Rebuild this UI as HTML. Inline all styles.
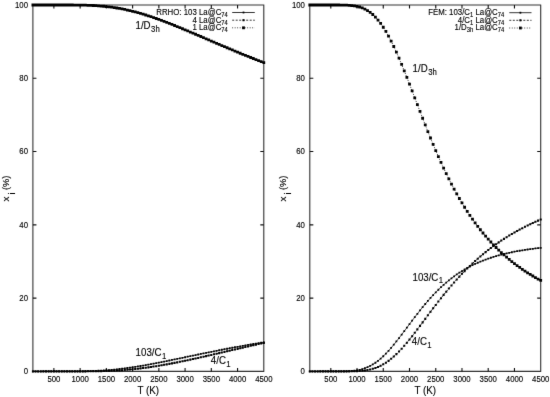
<!DOCTYPE html>
<html><head><meta charset="utf-8"><style>
html,body{margin:0;padding:0;background:#fff;width:550px;height:397px;overflow:hidden}
svg{display:block}
#w{will-change:transform}
text{font-family:'Liberation Sans',sans-serif;fill:#000;stroke:#000;stroke-width:0.12px}
</style></head><body><div id="w">
<svg width="550" height="397" viewBox="0 0 550 397">
<defs><filter id="bl" filterUnits="userSpaceOnUse" x="0" y="0" width="550" height="397"><feConvolveMatrix order="3" kernelMatrix="0.0052 0.0619 0.0052 0.0619 0.7314 0.0619 0.0052 0.0619 0.0052" edgeMode="none" preserveAlpha="false"/></filter></defs>
<rect width="550" height="397" fill="#fff"/>
<g filter="url(#bl)">
<path d="M32.9 5.0V371.4M263.8 5.0V371.4M32.4 5.0H264.3M32.4 371.4H264.3" fill="none" stroke="#333" stroke-width="1.1"/>
<path d="M53.89 371.4v-3.5M53.89 5.0v3.5M80.13 371.4v-3.5M80.13 5.0v3.5M106.37 371.4v-3.5M106.37 5.0v3.5M132.61 371.4v-3.5M132.61 5.0v3.5M158.85 371.4v-3.5M158.85 5.0v3.5M185.08 371.4v-3.5M185.08 5.0v3.5M211.32 371.4v-3.5M211.32 5.0v3.5M237.56 371.4v-3.5M237.56 5.0v3.5M32.9 298.12h3.5M263.8 298.12h-3.5M32.9 224.84h3.5M263.8 224.84h-3.5M32.9 151.56h3.5M263.8 151.56h-3.5M32.9 78.28h3.5M263.8 78.28h-3.5" stroke="#111" stroke-width="1.1" fill="none"/>
<text transform="translate(53.89,381.60) scale(1,1.12)" font-size="7.8" text-anchor="middle">500</text>
<text transform="translate(80.13,381.60) scale(1,1.12)" font-size="7.8" text-anchor="middle">1000</text>
<text transform="translate(106.37,381.60) scale(1,1.12)" font-size="7.8" text-anchor="middle">1500</text>
<text transform="translate(132.61,381.60) scale(1,1.12)" font-size="7.8" text-anchor="middle">2000</text>
<text transform="translate(158.85,381.60) scale(1,1.12)" font-size="7.8" text-anchor="middle">2500</text>
<text transform="translate(185.08,381.60) scale(1,1.12)" font-size="7.8" text-anchor="middle">3000</text>
<text transform="translate(211.32,381.60) scale(1,1.12)" font-size="7.8" text-anchor="middle">3500</text>
<text transform="translate(237.56,381.60) scale(1,1.12)" font-size="7.8" text-anchor="middle">4000</text>
<text transform="translate(263.80,381.60) scale(1,1.12)" font-size="7.8" text-anchor="middle">4500</text>
<text transform="translate(28.00,374.20) scale(1,1.12)" font-size="7.8" text-anchor="end">0</text>
<text transform="translate(28.00,300.92) scale(1,1.12)" font-size="7.8" text-anchor="end">20</text>
<text transform="translate(28.00,227.64) scale(1,1.12)" font-size="7.8" text-anchor="end">40</text>
<text transform="translate(28.00,154.36) scale(1,1.12)" font-size="7.8" text-anchor="end">60</text>
<text transform="translate(28.00,81.08) scale(1,1.12)" font-size="7.8" text-anchor="end">80</text>
<text transform="translate(28.00,7.80) scale(1,1.12)" font-size="7.8" text-anchor="end">100</text>
<text transform="translate(148.35,393.80) scale(1,1.12)" font-size="9.8" text-anchor="middle">T (K)</text>
<text transform="translate(9.30,201.6) rotate(-90)" font-size="9.8" stroke="#000" stroke-width="0.15">x</text>
<text transform="translate(14.50,194.6) rotate(-90)" font-size="9.31" fill="#333">i</text>
<text transform="translate(9.00,190.1) rotate(-90) scale(0.95,1)" font-size="9.8" stroke="#000" stroke-width="0.25">(%)</text>
<polyline points="32.90,371.40 35.52,371.40 38.15,371.40 40.77,371.40 43.40,371.40 46.02,371.40 48.64,371.40 51.27,371.40 53.89,371.40 56.51,371.40 59.14,371.40 61.76,371.40 64.39,371.40 67.01,371.39 69.63,371.39 72.26,371.38 74.88,371.37 77.51,371.35 80.13,371.32 82.75,371.28 85.38,371.23 88.00,371.17 90.62,371.10 93.25,371.00 95.87,370.90 98.50,370.77 101.12,370.62 103.74,370.45 106.37,370.26 108.99,370.05 111.62,369.82 114.24,369.57 116.86,369.30 119.49,369.01 122.11,368.69 124.74,368.36 127.36,368.01 129.98,367.64 132.61,367.25 135.23,366.84 137.85,366.42 140.48,365.99 143.10,365.54 145.73,365.08 148.35,364.61 150.97,364.12 153.60,363.63 156.22,363.12 158.85,362.61 161.47,362.09 164.09,361.57 166.72,361.04 169.34,360.50 171.96,359.96 174.59,359.42 177.21,358.88 179.84,358.33 182.46,357.78 185.08,357.23 187.71,356.68 190.33,356.14 192.96,355.59 195.58,355.05 198.20,354.50 200.83,353.96 203.45,353.42 206.08,352.89 208.70,352.36 211.32,351.83 213.95,351.30 216.57,350.78 219.19,350.27 221.82,349.76 224.44,349.25 227.07,348.75 229.69,348.25 232.31,347.76 234.94,347.27 237.56,346.79 240.19,346.32 242.81,345.85 245.43,345.38 248.06,344.92 250.68,344.47 253.30,344.02 255.93,343.58 258.55,343.15 261.18,342.72 263.80,342.29" fill="none" stroke="#000" stroke-width="0.7"/>
<polyline points="32.90,371.40 35.52,371.40 38.15,371.40 40.77,371.40 43.40,371.40 46.02,371.40 48.64,371.40 51.27,371.40 53.89,371.40 56.51,371.40 59.14,371.40 61.76,371.40 64.39,371.40 67.01,371.40 69.63,371.40 72.26,371.40 74.88,371.40 77.51,371.39 80.13,371.39 82.75,371.38 85.38,371.37 88.00,371.35 90.62,371.33 93.25,371.30 95.87,371.26 98.50,371.21 101.12,371.15 103.74,371.08 106.37,371.00 108.99,370.90 111.62,370.79 114.24,370.66 116.86,370.51 119.49,370.35 122.11,370.17 124.74,369.97 127.36,369.76 129.98,369.52 132.61,369.27 135.23,368.99 137.85,368.70 140.48,368.39 143.10,368.06 145.73,367.71 148.35,367.35 150.97,366.97 153.60,366.57 156.22,366.16 158.85,365.73 161.47,365.29 164.09,364.83 166.72,364.36 169.34,363.87 171.96,363.38 174.59,362.87 177.21,362.35 179.84,361.83 182.46,361.29 185.08,360.74 187.71,360.19 190.33,359.63 192.96,359.06 195.58,358.48 198.20,357.90 200.83,357.32 203.45,356.73 206.08,356.13 208.70,355.54 211.32,354.94 213.95,354.33 216.57,353.73 219.19,353.12 221.82,352.51 224.44,351.91 227.07,351.30 229.69,350.69 232.31,350.08 234.94,349.47 237.56,348.86 240.19,348.26 242.81,347.65 245.43,347.05 248.06,346.45 250.68,345.85 253.30,345.25 255.93,344.66 258.55,344.07 261.18,343.48 263.80,342.89" fill="none" stroke="#000" stroke-width="0.9" stroke-dasharray="2 1.5"/>
<polyline points="32.90,5.00 35.52,5.00 38.15,5.00 40.77,5.00 43.40,5.00 46.02,5.00 48.64,5.00 51.27,5.00 53.89,5.00 56.51,5.00 59.14,5.00 61.76,5.00 64.39,5.00 67.01,5.01 69.63,5.01 72.26,5.02 74.88,5.04 77.51,5.06 80.13,5.09 82.75,5.14 85.38,5.20 88.00,5.28 90.62,5.38 93.25,5.50 95.87,5.65 98.50,5.82 101.12,6.03 103.74,6.27 106.37,6.54 108.99,6.85 111.62,7.19 114.24,7.57 116.86,7.99 119.49,8.44 122.11,8.94 124.74,9.47 127.36,10.04 129.98,10.64 132.61,11.28 135.23,11.96 137.85,12.68 140.48,13.42 143.10,14.20 145.73,15.01 148.35,15.84 150.97,16.71 153.60,17.60 156.22,18.52 158.85,19.46 161.47,20.42 164.09,21.40 166.72,22.40 169.34,23.42 171.96,24.46 174.59,25.51 177.21,26.57 179.84,27.65 182.46,28.73 185.08,29.83 187.71,30.93 190.33,32.04 192.96,33.15 195.58,34.27 198.20,35.40 200.83,36.52 203.45,37.65 206.08,38.78 208.70,39.91 211.32,41.04 213.95,42.16 216.57,43.29 219.19,44.41 221.82,45.53 224.44,46.65 227.07,47.76 229.69,48.86 232.31,49.96 234.94,51.06 237.56,52.14 240.19,53.23 242.81,54.30 245.43,55.37 248.06,56.43 250.68,57.48 253.30,58.52 255.93,59.56 258.55,60.59 261.18,61.61 263.80,62.62" fill="none" stroke="#000" stroke-width="0.9" stroke-dasharray="0.9 1.6"/>
<path d="M32.00 370.50h1.8v1.8h-1.8zM34.62 370.50h1.8v1.8h-1.8zM37.25 370.50h1.8v1.8h-1.8zM39.87 370.50h1.8v1.8h-1.8zM42.50 370.50h1.8v1.8h-1.8zM45.12 370.50h1.8v1.8h-1.8zM47.74 370.50h1.8v1.8h-1.8zM50.37 370.50h1.8v1.8h-1.8zM52.99 370.50h1.8v1.8h-1.8zM55.61 370.50h1.8v1.8h-1.8zM58.24 370.50h1.8v1.8h-1.8zM60.86 370.50h1.8v1.8h-1.8zM63.49 370.50h1.8v1.8h-1.8zM66.11 370.49h1.8v1.8h-1.8zM68.73 370.49h1.8v1.8h-1.8zM71.36 370.48h1.8v1.8h-1.8zM73.98 370.47h1.8v1.8h-1.8zM76.61 370.45h1.8v1.8h-1.8zM79.23 370.42h1.8v1.8h-1.8zM81.85 370.38h1.8v1.8h-1.8zM84.48 370.33h1.8v1.8h-1.8zM87.10 370.27h1.8v1.8h-1.8zM89.72 370.20h1.8v1.8h-1.8zM92.35 370.10h1.8v1.8h-1.8zM94.97 370.00h1.8v1.8h-1.8zM97.60 369.87h1.8v1.8h-1.8zM100.22 369.72h1.8v1.8h-1.8zM102.84 369.55h1.8v1.8h-1.8zM105.47 369.36h1.8v1.8h-1.8zM108.09 369.15h1.8v1.8h-1.8zM110.72 368.92h1.8v1.8h-1.8zM113.34 368.67h1.8v1.8h-1.8zM115.96 368.40h1.8v1.8h-1.8zM118.59 368.11h1.8v1.8h-1.8zM121.21 367.79h1.8v1.8h-1.8zM123.84 367.46h1.8v1.8h-1.8zM126.46 367.11h1.8v1.8h-1.8zM129.08 366.74h1.8v1.8h-1.8zM131.71 366.35h1.8v1.8h-1.8zM134.33 365.94h1.8v1.8h-1.8zM136.95 365.52h1.8v1.8h-1.8zM139.58 365.09h1.8v1.8h-1.8zM142.20 364.64h1.8v1.8h-1.8zM144.83 364.18h1.8v1.8h-1.8zM147.45 363.71h1.8v1.8h-1.8zM150.07 363.22h1.8v1.8h-1.8zM152.70 362.73h1.8v1.8h-1.8zM155.32 362.22h1.8v1.8h-1.8zM157.95 361.71h1.8v1.8h-1.8zM160.57 361.19h1.8v1.8h-1.8zM163.19 360.67h1.8v1.8h-1.8zM165.82 360.14h1.8v1.8h-1.8zM168.44 359.60h1.8v1.8h-1.8zM171.06 359.06h1.8v1.8h-1.8zM173.69 358.52h1.8v1.8h-1.8zM176.31 357.98h1.8v1.8h-1.8zM178.94 357.43h1.8v1.8h-1.8zM181.56 356.88h1.8v1.8h-1.8zM184.18 356.33h1.8v1.8h-1.8zM186.81 355.78h1.8v1.8h-1.8zM189.43 355.24h1.8v1.8h-1.8zM192.06 354.69h1.8v1.8h-1.8zM194.68 354.15h1.8v1.8h-1.8zM197.30 353.60h1.8v1.8h-1.8zM199.93 353.06h1.8v1.8h-1.8zM202.55 352.52h1.8v1.8h-1.8zM205.18 351.99h1.8v1.8h-1.8zM207.80 351.46h1.8v1.8h-1.8zM210.42 350.93h1.8v1.8h-1.8zM213.05 350.40h1.8v1.8h-1.8zM215.67 349.88h1.8v1.8h-1.8zM218.29 349.37h1.8v1.8h-1.8zM220.92 348.86h1.8v1.8h-1.8zM223.54 348.35h1.8v1.8h-1.8zM226.17 347.85h1.8v1.8h-1.8zM228.79 347.35h1.8v1.8h-1.8zM231.41 346.86h1.8v1.8h-1.8zM234.04 346.37h1.8v1.8h-1.8zM236.66 345.89h1.8v1.8h-1.8zM239.29 345.42h1.8v1.8h-1.8zM241.91 344.95h1.8v1.8h-1.8zM244.53 344.48h1.8v1.8h-1.8zM247.16 344.02h1.8v1.8h-1.8zM249.78 343.57h1.8v1.8h-1.8zM252.40 343.12h1.8v1.8h-1.8zM255.03 342.68h1.8v1.8h-1.8zM257.65 342.25h1.8v1.8h-1.8zM260.28 341.82h1.8v1.8h-1.8zM262.90 341.39h1.8v1.8h-1.8z" fill="#000"/>
<path d="M31.88 370.38h2.05v2.05h-2.05zM34.50 370.38h2.05v2.05h-2.05zM37.12 370.38h2.05v2.05h-2.05zM39.75 370.38h2.05v2.05h-2.05zM42.37 370.37h2.05v2.05h-2.05zM44.99 370.37h2.05v2.05h-2.05zM47.62 370.37h2.05v2.05h-2.05zM50.24 370.37h2.05v2.05h-2.05zM52.87 370.37h2.05v2.05h-2.05zM55.49 370.37h2.05v2.05h-2.05zM58.11 370.37h2.05v2.05h-2.05zM60.74 370.37h2.05v2.05h-2.05zM63.36 370.37h2.05v2.05h-2.05zM65.99 370.37h2.05v2.05h-2.05zM68.61 370.37h2.05v2.05h-2.05zM71.23 370.37h2.05v2.05h-2.05zM73.86 370.37h2.05v2.05h-2.05zM76.48 370.37h2.05v2.05h-2.05zM79.10 370.36h2.05v2.05h-2.05zM81.73 370.35h2.05v2.05h-2.05zM84.35 370.34h2.05v2.05h-2.05zM86.98 370.32h2.05v2.05h-2.05zM89.60 370.30h2.05v2.05h-2.05zM92.22 370.27h2.05v2.05h-2.05zM94.85 370.23h2.05v2.05h-2.05zM97.47 370.18h2.05v2.05h-2.05zM100.10 370.13h2.05v2.05h-2.05zM102.72 370.06h2.05v2.05h-2.05zM105.34 369.97h2.05v2.05h-2.05zM107.97 369.87h2.05v2.05h-2.05zM110.59 369.76h2.05v2.05h-2.05zM113.21 369.63h2.05v2.05h-2.05zM115.84 369.49h2.05v2.05h-2.05zM118.46 369.33h2.05v2.05h-2.05zM121.09 369.15h2.05v2.05h-2.05zM123.71 368.95h2.05v2.05h-2.05zM126.33 368.73h2.05v2.05h-2.05zM128.96 368.50h2.05v2.05h-2.05zM131.58 368.24h2.05v2.05h-2.05zM134.21 367.97h2.05v2.05h-2.05zM136.83 367.68h2.05v2.05h-2.05zM139.45 367.36h2.05v2.05h-2.05zM142.08 367.04h2.05v2.05h-2.05zM144.70 366.69h2.05v2.05h-2.05zM147.32 366.33h2.05v2.05h-2.05zM149.95 365.94h2.05v2.05h-2.05zM152.57 365.55h2.05v2.05h-2.05zM155.20 365.13h2.05v2.05h-2.05zM157.82 364.70h2.05v2.05h-2.05zM160.44 364.26h2.05v2.05h-2.05zM163.07 363.80h2.05v2.05h-2.05zM165.69 363.33h2.05v2.05h-2.05zM168.32 362.85h2.05v2.05h-2.05zM170.94 362.35h2.05v2.05h-2.05zM173.56 361.85h2.05v2.05h-2.05zM176.19 361.33h2.05v2.05h-2.05zM178.81 360.80h2.05v2.05h-2.05zM181.44 360.26h2.05v2.05h-2.05zM184.06 359.72h2.05v2.05h-2.05zM186.68 359.16h2.05v2.05h-2.05zM189.31 358.60h2.05v2.05h-2.05zM191.93 358.03h2.05v2.05h-2.05zM194.55 357.46h2.05v2.05h-2.05zM197.18 356.88h2.05v2.05h-2.05zM199.80 356.29h2.05v2.05h-2.05zM202.43 355.70h2.05v2.05h-2.05zM205.05 355.11h2.05v2.05h-2.05zM207.67 354.51h2.05v2.05h-2.05zM210.30 353.91h2.05v2.05h-2.05zM212.92 353.31h2.05v2.05h-2.05zM215.55 352.70h2.05v2.05h-2.05zM218.17 352.10h2.05v2.05h-2.05zM220.79 351.49h2.05v2.05h-2.05zM223.42 350.88h2.05v2.05h-2.05zM226.04 350.27h2.05v2.05h-2.05zM228.66 349.66h2.05v2.05h-2.05zM231.29 349.05h2.05v2.05h-2.05zM233.91 348.45h2.05v2.05h-2.05zM236.54 347.84h2.05v2.05h-2.05zM239.16 347.23h2.05v2.05h-2.05zM241.78 346.63h2.05v2.05h-2.05zM244.41 346.02h2.05v2.05h-2.05zM247.03 345.42h2.05v2.05h-2.05zM249.66 344.82h2.05v2.05h-2.05zM252.28 344.23h2.05v2.05h-2.05zM254.90 343.63h2.05v2.05h-2.05zM257.53 343.04h2.05v2.05h-2.05zM260.15 342.45h2.05v2.05h-2.05zM262.78 341.87h2.05v2.05h-2.05z" fill="#000"/>
<path d="M31.50 3.60h2.8v2.8h-2.8zM34.12 3.60h2.8v2.8h-2.8zM36.75 3.60h2.8v2.8h-2.8zM39.37 3.60h2.8v2.8h-2.8zM42.00 3.60h2.8v2.8h-2.8zM44.62 3.60h2.8v2.8h-2.8zM47.24 3.60h2.8v2.8h-2.8zM49.87 3.60h2.8v2.8h-2.8zM52.49 3.60h2.8v2.8h-2.8zM55.11 3.60h2.8v2.8h-2.8zM57.74 3.60h2.8v2.8h-2.8zM60.36 3.60h2.8v2.8h-2.8zM62.99 3.60h2.8v2.8h-2.8zM65.61 3.61h2.8v2.8h-2.8zM68.23 3.61h2.8v2.8h-2.8zM70.86 3.62h2.8v2.8h-2.8zM73.48 3.64h2.8v2.8h-2.8zM76.11 3.66h2.8v2.8h-2.8zM78.73 3.69h2.8v2.8h-2.8zM81.35 3.74h2.8v2.8h-2.8zM83.98 3.80h2.8v2.8h-2.8zM86.60 3.88h2.8v2.8h-2.8zM89.22 3.98h2.8v2.8h-2.8zM91.85 4.10h2.8v2.8h-2.8zM94.47 4.25h2.8v2.8h-2.8zM97.10 4.42h2.8v2.8h-2.8zM99.72 4.63h2.8v2.8h-2.8zM102.34 4.87h2.8v2.8h-2.8zM104.97 5.14h2.8v2.8h-2.8zM107.59 5.45h2.8v2.8h-2.8zM110.22 5.79h2.8v2.8h-2.8zM112.84 6.17h2.8v2.8h-2.8zM115.46 6.59h2.8v2.8h-2.8zM118.09 7.04h2.8v2.8h-2.8zM120.71 7.54h2.8v2.8h-2.8zM123.34 8.07h2.8v2.8h-2.8zM125.96 8.64h2.8v2.8h-2.8zM128.58 9.24h2.8v2.8h-2.8zM131.21 9.88h2.8v2.8h-2.8zM133.83 10.56h2.8v2.8h-2.8zM136.45 11.28h2.8v2.8h-2.8zM139.08 12.02h2.8v2.8h-2.8zM141.70 12.80h2.8v2.8h-2.8zM144.33 13.61h2.8v2.8h-2.8zM146.95 14.44h2.8v2.8h-2.8zM149.57 15.31h2.8v2.8h-2.8zM152.20 16.20h2.8v2.8h-2.8zM154.82 17.12h2.8v2.8h-2.8zM157.45 18.06h2.8v2.8h-2.8zM160.07 19.02h2.8v2.8h-2.8zM162.69 20.00h2.8v2.8h-2.8zM165.32 21.00h2.8v2.8h-2.8zM167.94 22.02h2.8v2.8h-2.8zM170.56 23.06h2.8v2.8h-2.8zM173.19 24.11h2.8v2.8h-2.8zM175.81 25.17h2.8v2.8h-2.8zM178.44 26.25h2.8v2.8h-2.8zM181.06 27.33h2.8v2.8h-2.8zM183.68 28.43h2.8v2.8h-2.8zM186.31 29.53h2.8v2.8h-2.8zM188.93 30.64h2.8v2.8h-2.8zM191.56 31.75h2.8v2.8h-2.8zM194.18 32.87h2.8v2.8h-2.8zM196.80 34.00h2.8v2.8h-2.8zM199.43 35.12h2.8v2.8h-2.8zM202.05 36.25h2.8v2.8h-2.8zM204.68 37.38h2.8v2.8h-2.8zM207.30 38.51h2.8v2.8h-2.8zM209.92 39.64h2.8v2.8h-2.8zM212.55 40.76h2.8v2.8h-2.8zM215.17 41.89h2.8v2.8h-2.8zM217.79 43.01h2.8v2.8h-2.8zM220.42 44.13h2.8v2.8h-2.8zM223.04 45.25h2.8v2.8h-2.8zM225.67 46.36h2.8v2.8h-2.8zM228.29 47.46h2.8v2.8h-2.8zM230.91 48.56h2.8v2.8h-2.8zM233.54 49.66h2.8v2.8h-2.8zM236.16 50.74h2.8v2.8h-2.8zM238.79 51.83h2.8v2.8h-2.8zM241.41 52.90h2.8v2.8h-2.8zM244.03 53.97h2.8v2.8h-2.8zM246.66 55.03h2.8v2.8h-2.8zM249.28 56.08h2.8v2.8h-2.8zM251.90 57.12h2.8v2.8h-2.8zM254.53 58.16h2.8v2.8h-2.8zM257.15 59.19h2.8v2.8h-2.8zM259.78 60.21h2.8v2.8h-2.8zM262.40 61.22h2.8v2.8h-2.8z" fill="#000"/>
<text transform="translate(227.80,14.80) scale(1,1.12)" font-size="7.85" text-anchor="end">RRHO: 103 La@C<tspan dy="1.8" font-size="5.8">74</tspan></text>
<path d="M232.2 12.5H254.8" stroke="#000" stroke-width="0.8"/>
<rect x="242.60" y="11.60" width="1.8" height="1.8" fill="#000"/>
<text transform="translate(227.80,22.50) scale(1,1.12)" font-size="7.85" text-anchor="end">4 La@C<tspan dy="1.8" font-size="5.8">74</tspan></text>
<path d="M232.2 20.2H254.8" stroke="#000" stroke-width="0.8" stroke-dasharray="2 1.5"/>
<rect x="242.47" y="19.18" width="2.05" height="2.05" fill="#000"/>
<text transform="translate(227.80,30.10) scale(1,1.12)" font-size="7.85" text-anchor="end">1 La@C<tspan dy="1.8" font-size="5.8">74</tspan></text>
<path d="M232.2 27.8H254.8" stroke="#000" stroke-width="0.8" stroke-dasharray="0.9 1.6"/>
<rect x="242.10" y="26.40" width="2.8" height="2.8" fill="#000"/>
<text transform="translate(135.50,29.00) scale(1,1.06)" font-size="9.7">1/D<tspan dx="0.5" dy="2.6" font-size="7.76">3h</tspan></text>
<text transform="translate(135.60,356.40) scale(1,1.06)" font-size="9.7">103/C<tspan dx="0.5" dy="2.6" font-size="7.76">1</tspan></text>
<text transform="translate(210.80,363.80) scale(1,1.06)" font-size="9.7">4/C<tspan dx="0.5" dy="2.6" font-size="7.76">1</tspan></text>
<path d="M309.8 5.0V371.4M540.7 5.0V371.4M309.3 5.0H541.2M309.3 371.4H541.2" fill="none" stroke="#333" stroke-width="1.1"/>
<path d="M330.79 371.4v-3.5M330.79 5.0v3.5M357.03 371.4v-3.5M357.03 5.0v3.5M383.27 371.4v-3.5M383.27 5.0v3.5M409.51 371.4v-3.5M409.51 5.0v3.5M435.75 371.4v-3.5M435.75 5.0v3.5M461.98 371.4v-3.5M461.98 5.0v3.5M488.22 371.4v-3.5M488.22 5.0v3.5M514.46 371.4v-3.5M514.46 5.0v3.5M309.8 298.12h3.5M540.7 298.12h-3.5M309.8 224.84h3.5M540.7 224.84h-3.5M309.8 151.56h3.5M540.7 151.56h-3.5M309.8 78.28h3.5M540.7 78.28h-3.5" stroke="#111" stroke-width="1.1" fill="none"/>
<text transform="translate(330.79,381.60) scale(1,1.12)" font-size="7.8" text-anchor="middle">500</text>
<text transform="translate(357.03,381.60) scale(1,1.12)" font-size="7.8" text-anchor="middle">1000</text>
<text transform="translate(383.27,381.60) scale(1,1.12)" font-size="7.8" text-anchor="middle">1500</text>
<text transform="translate(409.51,381.60) scale(1,1.12)" font-size="7.8" text-anchor="middle">2000</text>
<text transform="translate(435.75,381.60) scale(1,1.12)" font-size="7.8" text-anchor="middle">2500</text>
<text transform="translate(461.98,381.60) scale(1,1.12)" font-size="7.8" text-anchor="middle">3000</text>
<text transform="translate(488.22,381.60) scale(1,1.12)" font-size="7.8" text-anchor="middle">3500</text>
<text transform="translate(514.46,381.60) scale(1,1.12)" font-size="7.8" text-anchor="middle">4000</text>
<text transform="translate(540.70,381.60) scale(1,1.12)" font-size="7.8" text-anchor="middle">4500</text>
<text transform="translate(304.90,374.20) scale(1,1.12)" font-size="7.8" text-anchor="end">0</text>
<text transform="translate(304.90,300.92) scale(1,1.12)" font-size="7.8" text-anchor="end">20</text>
<text transform="translate(304.90,227.64) scale(1,1.12)" font-size="7.8" text-anchor="end">40</text>
<text transform="translate(304.90,154.36) scale(1,1.12)" font-size="7.8" text-anchor="end">60</text>
<text transform="translate(304.90,81.08) scale(1,1.12)" font-size="7.8" text-anchor="end">80</text>
<text transform="translate(304.90,7.80) scale(1,1.12)" font-size="7.8" text-anchor="end">100</text>
<text transform="translate(425.25,393.80) scale(1,1.12)" font-size="9.8" text-anchor="middle">T (K)</text>
<text transform="translate(286.20,201.6) rotate(-90)" font-size="9.8" stroke="#000" stroke-width="0.15">x</text>
<text transform="translate(291.40,194.6) rotate(-90)" font-size="9.31" fill="#333">i</text>
<text transform="translate(285.90,190.1) rotate(-90) scale(0.95,1)" font-size="9.8" stroke="#000" stroke-width="0.25">(%)</text>
<polyline points="309.80,371.40 312.42,371.40 315.05,371.40 317.67,371.40 320.30,371.40 322.92,371.40 325.54,371.40 328.17,371.40 330.79,371.40 333.41,371.40 336.04,371.40 338.66,371.39 341.29,371.37 343.91,371.33 346.53,371.25 349.16,371.13 351.78,370.95 354.41,370.68 357.03,370.29 359.65,369.78 362.28,369.10 364.90,368.25 367.53,367.21 370.15,365.95 372.77,364.46 375.40,362.75 378.02,360.81 380.64,358.63 383.27,356.23 385.89,353.62 388.52,350.82 391.14,347.85 393.76,344.72 396.39,341.47 399.01,338.11 401.64,334.67 404.26,331.19 406.88,327.68 409.51,324.16 412.13,320.66 414.75,317.19 417.38,313.78 420.00,310.44 422.63,307.18 425.25,304.00 427.87,300.93 430.50,297.96 433.12,295.11 435.75,292.36 438.37,289.73 440.99,287.22 443.62,284.82 446.24,282.53 448.86,280.35 451.49,278.29 454.11,276.32 456.74,274.46 459.36,272.70 461.98,271.03 464.61,269.45 467.23,267.95 469.86,266.54 472.48,265.21 475.10,263.95 477.73,262.76 480.35,261.64 482.98,260.58 485.60,259.58 488.22,258.64 490.85,257.75 493.47,256.91 496.09,256.12 498.72,255.37 501.34,254.67 503.97,254.01 506.59,253.38 509.21,252.79 511.84,252.23 514.46,251.71 517.09,251.21 519.71,250.75 522.33,250.31 524.96,249.89 527.58,249.50 530.20,249.13 532.83,248.78 535.45,248.45 538.08,248.14 540.70,247.85" fill="none" stroke="#000" stroke-width="0.7"/>
<polyline points="309.80,371.40 312.42,371.40 315.05,371.40 317.67,371.40 320.30,371.40 322.92,371.40 325.54,371.40 328.17,371.40 330.79,371.40 333.41,371.40 336.04,371.40 338.66,371.40 341.29,371.40 343.91,371.39 346.53,371.38 349.16,371.36 351.78,371.32 354.41,371.26 357.03,371.16 359.65,371.00 362.28,370.78 364.90,370.47 367.53,370.06 370.15,369.52 372.77,368.83 375.40,367.99 378.02,366.96 380.64,365.75 383.27,364.33 385.89,362.71 388.52,360.87 391.14,358.83 393.76,356.59 396.39,354.15 399.01,351.52 401.64,348.73 404.26,345.78 406.88,342.69 409.51,339.49 412.13,336.19 414.75,332.81 417.38,329.37 420.00,325.89 422.63,322.37 425.25,318.85 427.87,315.33 430.50,311.82 433.12,308.34 435.75,304.90 438.37,301.51 440.99,298.16 443.62,294.87 446.24,291.65 448.86,288.50 451.49,285.41 454.11,282.40 456.74,279.47 459.36,276.61 461.98,273.82 464.61,271.12 467.23,268.49 469.86,265.93 472.48,263.45 475.10,261.04 477.73,258.70 480.35,256.43 482.98,254.23 485.60,252.10 488.22,250.03 490.85,248.03 493.47,246.08 496.09,244.20 498.72,242.37 501.34,240.60 503.97,238.88 506.59,237.21 509.21,235.59 511.84,234.02 514.46,232.50 517.09,231.02 519.71,229.58 522.33,228.19 524.96,226.84 527.58,225.52 530.20,224.25 532.83,223.01 535.45,221.80 538.08,220.63 540.70,219.49" fill="none" stroke="#000" stroke-width="0.9" stroke-dasharray="2 1.5"/>
<polyline points="309.80,5.00 312.42,5.00 315.05,5.00 317.67,5.00 320.30,5.00 322.92,5.00 325.54,5.00 328.17,5.00 330.79,5.00 333.41,5.00 336.04,5.01 338.66,5.01 341.29,5.04 343.91,5.08 346.53,5.16 349.16,5.30 351.78,5.53 354.41,5.87 357.03,6.35 359.65,7.02 362.28,7.92 364.90,9.08 367.53,10.54 370.15,12.34 372.77,14.50 375.40,17.06 378.02,20.03 380.64,23.42 383.27,27.24 385.89,31.47 388.52,36.10 391.14,41.12 393.76,46.49 396.39,52.19 399.01,58.17 401.64,64.40 404.26,70.83 406.88,77.43 409.51,84.15 412.13,90.95 414.75,97.79 417.38,104.65 420.00,111.47 422.63,118.25 425.25,124.94 427.87,131.54 430.50,138.01 433.12,144.35 435.75,150.53 438.37,156.56 440.99,162.42 443.62,168.11 446.24,173.62 448.86,178.95 451.49,184.10 454.11,189.07 456.74,193.87 459.36,198.49 461.98,202.95 464.61,207.24 467.23,211.36 469.86,215.33 472.48,219.14 475.10,222.81 477.73,226.34 480.35,229.73 482.98,232.99 485.60,236.12 488.22,239.13 490.85,242.02 493.47,244.81 496.09,247.48 498.72,250.06 501.34,252.53 503.97,254.92 506.59,257.21 509.21,259.42 511.84,261.54 514.46,263.59 517.09,265.57 519.71,267.47 522.33,269.30 524.96,271.07 527.58,272.78 530.20,274.42 532.83,276.01 535.45,277.55 538.08,279.03 540.70,280.46" fill="none" stroke="#000" stroke-width="0.9" stroke-dasharray="0.9 1.6"/>
<path d="M308.90 370.50h1.8v1.8h-1.8zM311.52 370.50h1.8v1.8h-1.8zM314.15 370.50h1.8v1.8h-1.8zM316.77 370.50h1.8v1.8h-1.8zM319.40 370.50h1.8v1.8h-1.8zM322.02 370.50h1.8v1.8h-1.8zM324.64 370.50h1.8v1.8h-1.8zM327.27 370.50h1.8v1.8h-1.8zM329.89 370.50h1.8v1.8h-1.8zM332.51 370.50h1.8v1.8h-1.8zM335.14 370.50h1.8v1.8h-1.8zM337.76 370.49h1.8v1.8h-1.8zM340.39 370.47h1.8v1.8h-1.8zM343.01 370.43h1.8v1.8h-1.8zM345.63 370.35h1.8v1.8h-1.8zM348.26 370.23h1.8v1.8h-1.8zM350.88 370.05h1.8v1.8h-1.8zM353.51 369.78h1.8v1.8h-1.8zM356.13 369.39h1.8v1.8h-1.8zM358.75 368.88h1.8v1.8h-1.8zM361.38 368.20h1.8v1.8h-1.8zM364.00 367.35h1.8v1.8h-1.8zM366.63 366.31h1.8v1.8h-1.8zM369.25 365.05h1.8v1.8h-1.8zM371.87 363.56h1.8v1.8h-1.8zM374.50 361.85h1.8v1.8h-1.8zM377.12 359.91h1.8v1.8h-1.8zM379.74 357.73h1.8v1.8h-1.8zM382.37 355.33h1.8v1.8h-1.8zM384.99 352.72h1.8v1.8h-1.8zM387.62 349.92h1.8v1.8h-1.8zM390.24 346.95h1.8v1.8h-1.8zM392.86 343.82h1.8v1.8h-1.8zM395.49 340.57h1.8v1.8h-1.8zM398.11 337.21h1.8v1.8h-1.8zM400.74 333.77h1.8v1.8h-1.8zM403.36 330.29h1.8v1.8h-1.8zM405.98 326.78h1.8v1.8h-1.8zM408.61 323.26h1.8v1.8h-1.8zM411.23 319.76h1.8v1.8h-1.8zM413.85 316.29h1.8v1.8h-1.8zM416.48 312.88h1.8v1.8h-1.8zM419.10 309.54h1.8v1.8h-1.8zM421.73 306.28h1.8v1.8h-1.8zM424.35 303.10h1.8v1.8h-1.8zM426.97 300.03h1.8v1.8h-1.8zM429.60 297.06h1.8v1.8h-1.8zM432.22 294.21h1.8v1.8h-1.8zM434.85 291.46h1.8v1.8h-1.8zM437.47 288.83h1.8v1.8h-1.8zM440.09 286.32h1.8v1.8h-1.8zM442.72 283.92h1.8v1.8h-1.8zM445.34 281.63h1.8v1.8h-1.8zM447.96 279.45h1.8v1.8h-1.8zM450.59 277.39h1.8v1.8h-1.8zM453.21 275.42h1.8v1.8h-1.8zM455.84 273.56h1.8v1.8h-1.8zM458.46 271.80h1.8v1.8h-1.8zM461.08 270.13h1.8v1.8h-1.8zM463.71 268.55h1.8v1.8h-1.8zM466.33 267.05h1.8v1.8h-1.8zM468.96 265.64h1.8v1.8h-1.8zM471.58 264.31h1.8v1.8h-1.8zM474.20 263.05h1.8v1.8h-1.8zM476.83 261.86h1.8v1.8h-1.8zM479.45 260.74h1.8v1.8h-1.8zM482.08 259.68h1.8v1.8h-1.8zM484.70 258.68h1.8v1.8h-1.8zM487.32 257.74h1.8v1.8h-1.8zM489.95 256.85h1.8v1.8h-1.8zM492.57 256.01h1.8v1.8h-1.8zM495.19 255.22h1.8v1.8h-1.8zM497.82 254.47h1.8v1.8h-1.8zM500.44 253.77h1.8v1.8h-1.8zM503.07 253.11h1.8v1.8h-1.8zM505.69 252.48h1.8v1.8h-1.8zM508.31 251.89h1.8v1.8h-1.8zM510.94 251.33h1.8v1.8h-1.8zM513.56 250.81h1.8v1.8h-1.8zM516.19 250.31h1.8v1.8h-1.8zM518.81 249.85h1.8v1.8h-1.8zM521.43 249.41h1.8v1.8h-1.8zM524.06 248.99h1.8v1.8h-1.8zM526.68 248.60h1.8v1.8h-1.8zM529.30 248.23h1.8v1.8h-1.8zM531.93 247.88h1.8v1.8h-1.8zM534.55 247.55h1.8v1.8h-1.8zM537.18 247.24h1.8v1.8h-1.8zM539.80 246.95h1.8v1.8h-1.8z" fill="#000"/>
<path d="M308.78 370.38h2.05v2.05h-2.05zM311.40 370.38h2.05v2.05h-2.05zM314.02 370.38h2.05v2.05h-2.05zM316.65 370.38h2.05v2.05h-2.05zM319.27 370.37h2.05v2.05h-2.05zM321.89 370.37h2.05v2.05h-2.05zM324.52 370.37h2.05v2.05h-2.05zM327.14 370.37h2.05v2.05h-2.05zM329.77 370.37h2.05v2.05h-2.05zM332.39 370.37h2.05v2.05h-2.05zM335.01 370.37h2.05v2.05h-2.05zM337.64 370.37h2.05v2.05h-2.05zM340.26 370.37h2.05v2.05h-2.05zM342.89 370.37h2.05v2.05h-2.05zM345.51 370.36h2.05v2.05h-2.05zM348.13 370.34h2.05v2.05h-2.05zM350.76 370.30h2.05v2.05h-2.05zM353.38 370.23h2.05v2.05h-2.05zM356.00 370.13h2.05v2.05h-2.05zM358.63 369.98h2.05v2.05h-2.05zM361.25 369.76h2.05v2.05h-2.05zM363.88 369.45h2.05v2.05h-2.05zM366.50 369.03h2.05v2.05h-2.05zM369.12 368.49h2.05v2.05h-2.05zM371.75 367.81h2.05v2.05h-2.05zM374.37 366.96h2.05v2.05h-2.05zM377.00 365.94h2.05v2.05h-2.05zM379.62 364.72h2.05v2.05h-2.05zM382.24 363.31h2.05v2.05h-2.05zM384.87 361.68h2.05v2.05h-2.05zM387.49 359.85h2.05v2.05h-2.05zM390.11 357.81h2.05v2.05h-2.05zM392.74 355.56h2.05v2.05h-2.05zM395.36 353.12h2.05v2.05h-2.05zM397.99 350.50h2.05v2.05h-2.05zM400.61 347.70h2.05v2.05h-2.05zM403.23 344.75h2.05v2.05h-2.05zM405.86 341.67h2.05v2.05h-2.05zM408.48 338.47h2.05v2.05h-2.05zM411.11 335.17h2.05v2.05h-2.05zM413.73 331.79h2.05v2.05h-2.05zM416.35 328.35h2.05v2.05h-2.05zM418.98 324.86h2.05v2.05h-2.05zM421.60 321.35h2.05v2.05h-2.05zM424.23 317.83h2.05v2.05h-2.05zM426.85 314.30h2.05v2.05h-2.05zM429.47 310.80h2.05v2.05h-2.05zM432.10 307.32h2.05v2.05h-2.05zM434.72 303.88h2.05v2.05h-2.05zM437.34 300.48h2.05v2.05h-2.05zM439.97 297.14h2.05v2.05h-2.05zM442.59 293.85h2.05v2.05h-2.05zM445.22 290.63h2.05v2.05h-2.05zM447.84 287.47h2.05v2.05h-2.05zM450.46 284.39h2.05v2.05h-2.05zM453.09 281.38h2.05v2.05h-2.05zM455.71 278.44h2.05v2.05h-2.05zM458.34 275.58h2.05v2.05h-2.05zM460.96 272.80h2.05v2.05h-2.05zM463.58 270.09h2.05v2.05h-2.05zM466.21 267.46h2.05v2.05h-2.05zM468.83 264.90h2.05v2.05h-2.05zM471.45 262.42h2.05v2.05h-2.05zM474.08 260.01h2.05v2.05h-2.05zM476.70 257.68h2.05v2.05h-2.05zM479.33 255.41h2.05v2.05h-2.05zM481.95 253.21h2.05v2.05h-2.05zM484.57 251.08h2.05v2.05h-2.05zM487.20 249.01h2.05v2.05h-2.05zM489.82 247.00h2.05v2.05h-2.05zM492.45 245.06h2.05v2.05h-2.05zM495.07 243.17h2.05v2.05h-2.05zM497.69 241.34h2.05v2.05h-2.05zM500.32 239.57h2.05v2.05h-2.05zM502.94 237.85h2.05v2.05h-2.05zM505.56 236.18h2.05v2.05h-2.05zM508.19 234.57h2.05v2.05h-2.05zM510.81 233.00h2.05v2.05h-2.05zM513.44 231.47h2.05v2.05h-2.05zM516.06 229.99h2.05v2.05h-2.05zM518.68 228.56h2.05v2.05h-2.05zM521.31 227.17h2.05v2.05h-2.05zM523.93 225.81h2.05v2.05h-2.05zM526.56 224.50h2.05v2.05h-2.05zM529.18 223.22h2.05v2.05h-2.05zM531.80 221.98h2.05v2.05h-2.05zM534.43 220.78h2.05v2.05h-2.05zM537.05 219.60h2.05v2.05h-2.05zM539.68 218.47h2.05v2.05h-2.05z" fill="#000"/>
<path d="M308.40 3.60h2.8v2.8h-2.8zM311.02 3.60h2.8v2.8h-2.8zM313.65 3.60h2.8v2.8h-2.8zM316.27 3.60h2.8v2.8h-2.8zM318.90 3.60h2.8v2.8h-2.8zM321.52 3.60h2.8v2.8h-2.8zM324.14 3.60h2.8v2.8h-2.8zM326.77 3.60h2.8v2.8h-2.8zM329.39 3.60h2.8v2.8h-2.8zM332.01 3.60h2.8v2.8h-2.8zM334.64 3.61h2.8v2.8h-2.8zM337.26 3.61h2.8v2.8h-2.8zM339.89 3.64h2.8v2.8h-2.8zM342.51 3.68h2.8v2.8h-2.8zM345.13 3.76h2.8v2.8h-2.8zM347.76 3.90h2.8v2.8h-2.8zM350.38 4.13h2.8v2.8h-2.8zM353.01 4.47h2.8v2.8h-2.8zM355.63 4.95h2.8v2.8h-2.8zM358.25 5.62h2.8v2.8h-2.8zM360.88 6.52h2.8v2.8h-2.8zM363.50 7.68h2.8v2.8h-2.8zM366.13 9.14h2.8v2.8h-2.8zM368.75 10.94h2.8v2.8h-2.8zM371.37 13.10h2.8v2.8h-2.8zM374.00 15.66h2.8v2.8h-2.8zM376.62 18.63h2.8v2.8h-2.8zM379.24 22.02h2.8v2.8h-2.8zM381.87 25.84h2.8v2.8h-2.8zM384.49 30.07h2.8v2.8h-2.8zM387.12 34.70h2.8v2.8h-2.8zM389.74 39.72h2.8v2.8h-2.8zM392.36 45.09h2.8v2.8h-2.8zM394.99 50.79h2.8v2.8h-2.8zM397.61 56.77h2.8v2.8h-2.8zM400.24 63.00h2.8v2.8h-2.8zM402.86 69.43h2.8v2.8h-2.8zM405.48 76.03h2.8v2.8h-2.8zM408.11 82.75h2.8v2.8h-2.8zM410.73 89.55h2.8v2.8h-2.8zM413.35 96.39h2.8v2.8h-2.8zM415.98 103.25h2.8v2.8h-2.8zM418.60 110.07h2.8v2.8h-2.8zM421.23 116.85h2.8v2.8h-2.8zM423.85 123.54h2.8v2.8h-2.8zM426.47 130.14h2.8v2.8h-2.8zM429.10 136.61h2.8v2.8h-2.8zM431.72 142.95h2.8v2.8h-2.8zM434.35 149.13h2.8v2.8h-2.8zM436.97 155.16h2.8v2.8h-2.8zM439.59 161.02h2.8v2.8h-2.8zM442.22 166.71h2.8v2.8h-2.8zM444.84 172.22h2.8v2.8h-2.8zM447.46 177.55h2.8v2.8h-2.8zM450.09 182.70h2.8v2.8h-2.8zM452.71 187.67h2.8v2.8h-2.8zM455.34 192.47h2.8v2.8h-2.8zM457.96 197.09h2.8v2.8h-2.8zM460.58 201.55h2.8v2.8h-2.8zM463.21 205.84h2.8v2.8h-2.8zM465.83 209.96h2.8v2.8h-2.8zM468.46 213.93h2.8v2.8h-2.8zM471.08 217.74h2.8v2.8h-2.8zM473.70 221.41h2.8v2.8h-2.8zM476.33 224.94h2.8v2.8h-2.8zM478.95 228.33h2.8v2.8h-2.8zM481.58 231.59h2.8v2.8h-2.8zM484.20 234.72h2.8v2.8h-2.8zM486.82 237.73h2.8v2.8h-2.8zM489.45 240.62h2.8v2.8h-2.8zM492.07 243.41h2.8v2.8h-2.8zM494.69 246.08h2.8v2.8h-2.8zM497.32 248.66h2.8v2.8h-2.8zM499.94 251.13h2.8v2.8h-2.8zM502.57 253.52h2.8v2.8h-2.8zM505.19 255.81h2.8v2.8h-2.8zM507.81 258.02h2.8v2.8h-2.8zM510.44 260.14h2.8v2.8h-2.8zM513.06 262.19h2.8v2.8h-2.8zM515.69 264.17h2.8v2.8h-2.8zM518.31 266.07h2.8v2.8h-2.8zM520.93 267.90h2.8v2.8h-2.8zM523.56 269.67h2.8v2.8h-2.8zM526.18 271.38h2.8v2.8h-2.8zM528.80 273.02h2.8v2.8h-2.8zM531.43 274.61h2.8v2.8h-2.8zM534.05 276.15h2.8v2.8h-2.8zM536.68 277.63h2.8v2.8h-2.8zM539.30 279.06h2.8v2.8h-2.8z" fill="#000"/>
<text transform="translate(504.20,15.00) scale(1,1.12)" font-size="7.85" text-anchor="end">FEM: 103/C<tspan dy="1.8" font-size="5.8">1</tspan><tspan dy="-1.8"> La@C</tspan><tspan dy="1.8" font-size="5.8">74</tspan></text>
<path d="M509.3 12.7H531.5" stroke="#000" stroke-width="0.8"/>
<rect x="519.50" y="11.80" width="1.8" height="1.8" fill="#000"/>
<text transform="translate(504.20,22.60) scale(1,1.12)" font-size="7.85" text-anchor="end">4/C<tspan dy="1.8" font-size="5.8">1</tspan><tspan dy="-1.8"> La@C</tspan><tspan dy="1.8" font-size="5.8">74</tspan></text>
<path d="M509.3 20.3H531.5" stroke="#000" stroke-width="0.8" stroke-dasharray="2 1.5"/>
<rect x="519.38" y="19.28" width="2.05" height="2.05" fill="#000"/>
<text transform="translate(504.20,30.30) scale(1,1.12)" font-size="7.85" text-anchor="end">1/D<tspan dy="1.8" font-size="5.8">3h</tspan><tspan dy="-1.8"> La@C</tspan><tspan dy="1.8" font-size="5.8">74</tspan></text>
<path d="M509.3 28.0H531.5" stroke="#000" stroke-width="0.8" stroke-dasharray="0.9 1.6"/>
<rect x="519.00" y="26.60" width="2.8" height="2.8" fill="#000"/>
<text transform="translate(412.60,71.80) scale(1,1.06)" font-size="9.7">1/D<tspan dx="0.5" dy="2.6" font-size="7.76">3h</tspan></text>
<text transform="translate(412.50,280.50) scale(1,1.06)" font-size="9.7">103/C<tspan dx="0.5" dy="2.6" font-size="7.76">1</tspan></text>
<text transform="translate(411.80,344.90) scale(1,1.06)" font-size="9.7">4/C<tspan dx="0.5" dy="2.6" font-size="7.76">1</tspan></text>
</g>
</svg></div></body></html>
